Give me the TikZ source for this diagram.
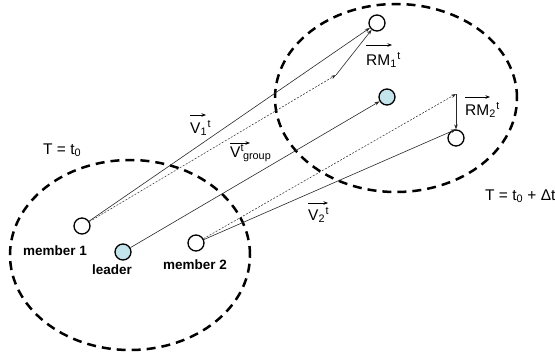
\documentclass[tikz,border=0pt]{standalone}
\usepackage{fontspec}
\setmainfont{Liberation Sans}
\usetikzlibrary{arrows.meta}
\definecolor{leaderblue}{RGB}{196,228,236}
\definecolor{linegray}{RGB}{40,40,40}
\begin{document}
\begin{tikzpicture}[x=1pt,y=-1pt,
  zone/.style={line width=2.5pt,dash pattern=on 9pt off 6pt},
  agent/.style={circle,draw,line width=1.3pt,minimum size=16pt,inner sep=0pt,fill=white},
  leaderdot/.style={agent,fill=leaderblue},
  move/.style={draw=linegray,line width=0.6pt,-{Stealth[length=5pt,width=3.5pt]}},
  ideal/.style={move,dash pattern=on 2pt off 1.5pt,line width=0.5pt},
  vec/.style={line width=0.7pt,-{Stealth[length=4.5pt,width=3.5pt]}},
  tag/.style={inner sep=0pt,anchor=base west,font=\fontsize{15.5}{18}\selectfont},
  who/.style={inner sep=0pt,anchor=base west,font=\fontsize{13.5}{15}\selectfont\bfseries}]
\useasboundingbox (0,0) rectangle (555,356);

% group regions at the two instants
\draw[zone] (130,255) ellipse [x radius=120pt, y radius=95pt];
\draw[zone] (396,98) ellipse [x radius=121pt, y radius=94pt];

% group at T = t0
\node[agent] (m1) at (82,226) {};
\node[leaderdot] (ld) at (123,252) {};
\node[agent] (m2) at (196,243) {};

% group at T = t0 + dt
\node[agent] (m1b) at (377,23) {};
\node[leaderdot] (ldb) at (387,97) {};
\node[agent] (m2b) at (456,138) {};

% ends of the pure group motion
\coordinate (g1) at (336,75);
\coordinate (g2) at (456,94);

% motion vectors
\draw[move] (m1) -- (m1b);
\draw[ideal] (m1) -- (g1);
\draw[move] (g1) -- (m1b);
\draw[move] (ld) -- (ldb);
\draw[move] (m2) -- (m2b.north);
\draw[ideal] (m2) -- (g2);
\draw[move] (g2) -- (m2b.north);

% labels
\node[who] (lm1) at (23,255) {member 1};
\node[who] (lld) at (92,274) {leader};
\node[who] (lm2) at (163,269) {member 2};

\node[tag] (t0) at (43,154) {T = t\textsubscript{0}};
\node[tag] (t1) at (485,200) {T = t\textsubscript{0} + Δt};

\node[tag] (v1) at (190,133) {V\textsubscript{1}\kern0.5pt\textsuperscript{t}};
\node[tag] (vg) at (230,157) {V\textsuperscript{t}\kern-1pt\textsubscript{group}};
\node[tag] (v2) at (308,220) {V\textsubscript{2}\kern0.5pt\textsuperscript{t}};
\node[tag] (r1) at (366,65) {RM\textsubscript{1}\kern0.5pt\textsuperscript{t}};
\node[tag] (r2) at (465,115) {RM\textsubscript{2}\kern0.5pt\textsuperscript{t}};

% vector arrows over the symbols
\draw[vec] ([yshift=18pt]v1.base west) -- ++(16,0);
\draw[vec] ([yshift=14pt]vg.base west) -- ++(20,0);
\draw[vec] ([yshift=17pt]v2.base west) -- ++(20,0);
\draw[vec] ([yshift=20pt]r1.base west) -- ++(26,0);
\draw[vec] ([yshift=18pt]r2.base west) -- ++(25,0);
\end{tikzpicture}
\end{document}
